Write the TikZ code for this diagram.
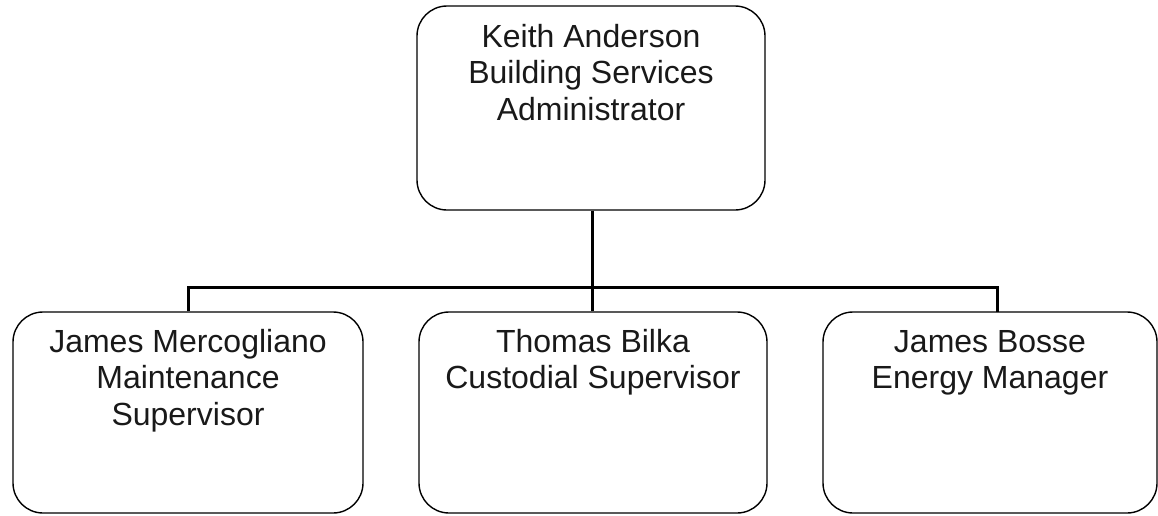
\documentclass[tikz,border=0pt]{standalone}
\usepackage{fontspec}
\setmainfont{Liberation Sans}
\begin{document}
\begin{tikzpicture}[x=1pt,y=-1pt,
  card/.style={draw=black, line width=1.4pt, rounded corners=30pt, inner sep=0pt},
  cardtext/.style={anchor=base, inner sep=0pt, text=black!90,
    font=\fontsize{32}{36.5}\selectfont},
  link/.style={draw=black, line width=3pt}]
  \useasboundingbox (0,0) rectangle (1158,515);

  % boxes
  \node[card, minimum width=348pt, minimum height=204pt] (ka) at (591,108) {};
  \node[card, minimum width=350pt, minimum height=201pt] (jm) at (188,412.5) {};
  \node[card, minimum width=348pt, minimum height=201pt] (tb) at (593,412.5) {};
  \node[card, minimum width=334pt, minimum height=201pt] (jb) at (990,412.5) {};

  % titles
  \node[cardtext] (kat) at (ka.north |- 0,47)
    {\parbox[t]{340pt}{\centering Keith Anderson\\Building Services\\Administrator}};
  \node[cardtext] (jmt) at (jm.north |- 0,352)
    {\parbox[t]{340pt}{\centering James Mercogliano\\Maintenance\\Supervisor}};
  \node[cardtext] (tbt) at (tb.north |- 0,352)
    {\parbox[t]{340pt}{\centering Thomas Bilka\\Custodial Supervisor}};
  \node[cardtext] (jbt) at (jb.north |- 0,352)
    {\parbox[t]{330pt}{\centering James Bosse\\Energy Manager}};

  % reporting lines
  \coordinate (bus) at (592,287);
  \coordinate (jbdrop) at (997,312);
  \draw[link] (ka.south -| bus) -- (bus);
  \draw[link] (jm.north) -- (jm.north |- bus) -- (jbdrop |- bus) -- (jbdrop);
  \draw[link] (tb.north -| bus) -- (bus);
\end{tikzpicture}
\end{document}
